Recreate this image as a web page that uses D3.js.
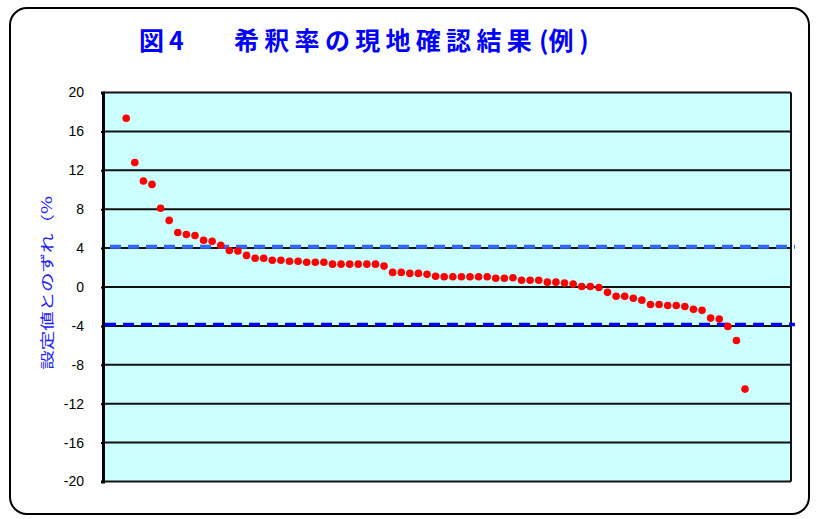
<!DOCTYPE html>
<html>
<head>
<meta charset="utf-8">
<script src="https://cdn.jsdelivr.net/npm/d3@7"></script>
<style>
  body { margin: 0; background: #fff; }
  svg { display: block; }
</style>
</head>
<body>
<div id="chart"></div>
<script>
// measured deviation from set value (%), sorted high to low
var deviations = [
  17.35, 12.8, 10.9, 10.55, 8.1, 6.85, 5.6, 5.4, 5.3, 4.8,
  4.7, 4.3, 3.75, 3.7, 3.25, 2.95, 2.95, 2.75, 2.75, 2.65,
  2.65, 2.55, 2.55, 2.55, 2.35, 2.35, 2.35, 2.35, 2.35, 2.35,
  2.15, 1.5, 1.5, 1.4, 1.4, 1.3, 1.1, 1.05, 1.05, 1.05,
  1.05, 1.05, 1.05, 0.9, 0.9, 0.95, 0.7, 0.7, 0.7, 0.5,
  0.5, 0.4, 0.3, 0.05, 0.05, -0.05, -0.55, -0.95, -0.95, -1.15,
  -1.35, -1.8, -1.8, -1.9, -1.9, -2.0, -2.3, -2.4, -3.2, -3.3,
  -4.05, -5.5, -10.5
];

var yTicks = [20, 16, 12, 8, 4, 0, -4, -8, -12, -16, -20];
var limits = [4.15, -3.85];
var limitColors = ["#3366ff", "#0000ff"];

var titleParts = ["図4", "希釈率の現地確認結果", "(例 )"];
var yLabel = "設定値とのずれ（%";

function drawChart() {

  var width = 820;
  var height = 519;
  var plot = { left: 103, right: 791, top: 92.5, bottom: 481.5 };

  var svg = d3.select("#chart").append("svg")
    .attr("width", width)
    .attr("height", height);

  // outer rounded frame
  svg.append("rect")
    .attr("x", 10).attr("y", 8)
    .attr("width", 799).attr("height", 506)
    .attr("rx", 17).attr("ry", 17)
    .attr("fill", "#fff")
    .attr("stroke", "#000")
    .attr("stroke-width", 2);

  var xScale = d3.scaleLinear()
    .domain([-1.7, 78.35])
    .range([plot.left, plot.right]);

  var yScale = d3.scaleLinear()
    .domain([-20, 20])
    .range([plot.bottom, plot.top]);

  svg.append("rect")
    .attr("x", plot.left)
    .attr("y", plot.top)
    .attr("width", plot.right - plot.left)
    .attr("height", plot.bottom - plot.top)
    .attr("fill", "#ccffff");

  // horizontal grid lines
  svg.append("g")
    .selectAll("line")
    .data(yTicks)
    .enter().append("line")
    .attr("x1", plot.left)
    .attr("x2", plot.right)
    .attr("y1", d => yScale(d))
    .attr("y2", d => yScale(d))
    .attr("stroke", "#111")
    .attr("stroke-width", 2);

  // right border
  svg.append("line")
    .attr("x1", plot.right).attr("x2", plot.right)
    .attr("y1", plot.top).attr("y2", plot.bottom)
    .attr("stroke", "#111")
    .attr("stroke-width", 2);

  // y axis
  var yAxis = d3.axisLeft(yScale)
    .tickValues(yTicks)
    .tickSize(2)
    .tickPadding(17)
    .tickFormat(d => String(d));

  var yAxisG = svg.append("g")
    .attr("transform", "translate(" + plot.left + ",0)")
    .call(yAxis);

  yAxisG.select(".domain")
    .attr("stroke", "#000")
    .attr("stroke-width", 3);
  yAxisG.selectAll(".tick line")
    .attr("stroke", "#000")
    .attr("stroke-width", 2);
  yAxisG.selectAll(".tick text")
    .attr("font-family", "'Liberation Sans', Arial, sans-serif")
    .attr("font-size", "14px")
    .attr("fill", "#000");

  // limit lines
  svg.append("g")
    .selectAll("line")
    .data(limits)
    .enter().append("line")
    .attr("x1", (d, i) => i === 0 ? plot.left + 7 : plot.left + 2)
    .attr("x2", plot.right + 4)
    .attr("y1", d => yScale(d))
    .attr("y2", d => yScale(d))
    .attr("stroke", (d, i) => limitColors[i])
    .attr("stroke-width", (d, i) => i === 0 ? 4 : 3.5)
    .attr("stroke-dasharray", "11,7");

  // points
  svg.append("g")
    .selectAll("circle")
    .data(deviations)
    .enter().append("circle")
    .attr("cx", (d, i) => xScale(i + 1))
    .attr("cy", d => yScale(d))
    .attr("r", 3.8)
    .attr("fill", "#ff0000");

  // title
  var title = svg.append("text")
    .attr("y", 50)
    .attr("font-family", "'Noto Sans CJK JP', sans-serif")
    .attr("font-weight", "bold")
    .attr("font-size", "25px")
    .attr("fill", "#0000ff");

  title.append("tspan").attr("x", 139).attr("letter-spacing", "5px").text(titleParts[0]);
  title.append("tspan").attr("x", 234).attr("letter-spacing", "5.3px").text(titleParts[1]);
  title.append("tspan").attr("x", 539).attr("letter-spacing", "0px").text(titleParts[2]);

  // y axis label
  svg.append("text")
    .attr("transform", "translate(46,283) rotate(-90) scale(1,0.72)")
    .attr("text-anchor", "middle")
    .attr("dominant-baseline", "central")
    .attr("font-family", "'Noto Sans CJK JP', sans-serif")
    .attr("font-size", "19.5px")
    .attr("fill", "#2020ff")
    .text(yLabel);
}

drawChart();
</script>
</body>
</html>
